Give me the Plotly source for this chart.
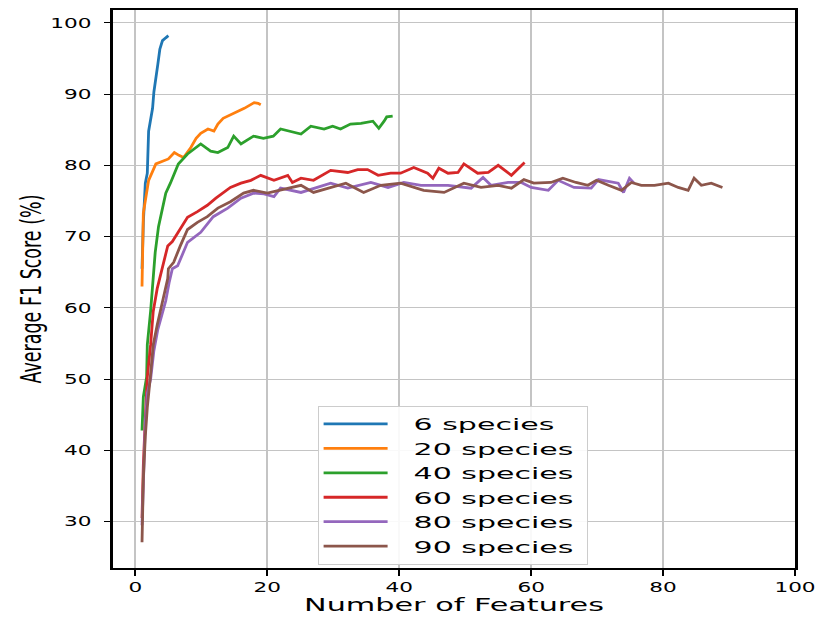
import plotly.graph_objects as go

# Average F1 score (%) versus number of selected features, per species count
labels = ["6 species", "20 species", "40 species", "60 species", "80 species", "90 species"]
colors = ["#1f77b4", "#ff7f0e", "#2ca02c", "#d62728", "#9467bd", "#8c564b"]

x_6 = [1.0, 1.2, 1.5, 1.8, 2.0, 2.3, 2.6, 2.8, 3.1, 3.4, 3.7, 4.1, 4.6, 5.0]
f1_6 = [65.5, 72.0, 77.5, 78.9, 84.8, 86.6, 88.0, 90.3, 92.0, 94.2, 96.3, 97.5, 97.9, 98.2]

x_20 = [1.0, 1.2, 2.0, 2.6, 3.1, 5.0, 5.9, 6.6, 7.3, 8.4, 9.2, 9.9, 11.0, 11.9, 12.5,
        13.3, 15.0, 16.5, 18.0, 18.6, 19.0]
f1_20 = [63.0, 73.3, 77.9, 79.3, 80.2, 80.9, 81.8, 81.4, 81.1, 82.5, 83.8, 84.5, 85.1, 84.8, 85.8,
         86.6, 87.3, 88.0, 88.8, 88.7, 88.5]

x_40 = [1.0, 1.2, 1.7, 1.8, 2.3, 2.6, 3.0, 3.5, 4.1, 4.6, 5.3, 6.5, 7.9, 9.9, 11.4, 12.5,
        14.0, 14.9, 16.0, 17.9, 19.4, 20.9, 22.0, 25.1, 26.6, 28.6, 29.9, 31.1, 32.6, 34.2,
        36.0, 36.9, 37.7, 38.1, 39.0]
f1_40 = [42.8, 47.5, 50.3, 54.8, 59.5, 63.1, 67.8, 71.4, 73.8, 76.1, 77.5, 80.2, 81.6, 83.0, 82.0, 81.8,
         82.5, 84.1, 83.0, 84.1, 83.8, 84.1, 85.1, 84.4, 85.5, 85.1, 85.5, 85.1, 85.8, 85.9,
         86.2, 85.2, 86.2, 86.8, 86.9]

x_60 = [1.0, 1.2, 1.5, 1.8, 2.3, 2.7, 3.3, 4.1, 4.9, 5.6, 6.5, 7.9, 9.4, 10.9, 12.2, 13.4,
        14.4, 16.0, 17.5, 19.0, 21.0, 23.1, 23.8, 25.1, 27.0, 29.6, 32.2, 33.7, 35.2, 36.8,
        38.7, 40.2, 42.2, 44.3, 45.1, 46.0, 47.4, 48.9, 49.8, 51.9, 53.5, 55.0, 57.0, 59.0]
f1_60 = [30.5, 38.0, 44.5, 50.3, 54.8, 59.5, 62.7, 65.5, 68.7, 69.3, 70.6, 72.7, 73.5, 74.4, 75.4, 76.2,
         76.9, 77.5, 77.9, 78.6, 77.9, 78.6, 77.6, 78.2, 77.9, 79.3, 79.0, 79.4, 79.4, 78.6,
         78.9, 78.9, 79.7, 78.9, 78.2, 79.6, 78.9, 79.0, 80.2, 78.9, 79.0, 80.0, 78.6, 80.4]

x_80 = [1.0, 1.2, 1.5, 1.8, 2.3, 2.8, 3.4, 4.0, 4.6, 5.1, 5.6, 6.4, 7.9, 9.9, 11.8, 14.0,
        16.0, 17.9, 19.5, 21.0, 22.0, 25.1, 29.6, 32.2, 35.7, 38.3, 40.7, 43.3, 47.4, 50.9,
        52.7, 53.9, 56.5, 58.5, 60.0, 62.6, 64.1, 66.5, 69.1, 70.2, 73.2, 74.0, 74.9, 75.6]
f1_80 = [29.5, 36.0, 44.0, 48.0, 50.0, 54.0, 57.0, 59.0, 61.0, 63.5, 65.5, 65.9, 69.2, 70.6, 72.8, 74.0,
         75.4, 76.1, 76.0, 75.6, 76.8, 76.2, 77.5, 76.8, 77.6, 76.9, 77.6, 77.2, 77.2, 76.8,
         78.3, 77.2, 77.6, 77.6, 76.9, 76.5, 77.9, 76.9, 76.8, 78.0, 77.5, 76.2, 78.2, 77.5]

x_90 = [1.0, 1.1, 1.2, 1.5, 1.8, 2.3, 2.7, 3.3, 3.8, 4.3, 4.9, 5.0, 5.8, 6.8, 7.9, 9.4,
        10.9, 12.5, 14.4, 16.4, 17.9, 20.0, 22.0, 25.1, 27.0, 29.6, 31.9, 34.6, 37.2, 40.2,
        43.7, 46.8, 49.8, 52.4, 55.0, 57.0, 58.9, 60.4, 63.0, 64.8, 66.8, 68.6, 69.9, 71.7,
        73.7, 75.2, 76.7, 78.7, 80.8, 82.3, 83.8, 84.7, 85.8, 87.3, 89.0]
f1_90 = [27.1, 31.0, 36.0, 42.0, 46.0, 50.7, 54.8, 57.6, 59.5, 61.7, 64.1, 65.5, 66.4, 68.7, 71.0, 72.0,
         72.8, 74.0, 74.9, 76.1, 76.5, 76.1, 76.5, 77.2, 76.2, 76.9, 77.5, 76.2, 77.2, 77.5,
         76.5, 76.2, 77.5, 76.9, 77.2, 76.8, 78.0, 77.5, 77.6, 78.2, 77.6, 77.2, 77.9, 77.2,
         76.5, 77.6, 77.2, 77.2, 77.5, 76.9, 76.5, 78.2, 77.2, 77.5, 76.9]

x_series = [x_6, x_20, x_40, x_60, x_80, x_90]
f1_series = [f1_6, f1_20, f1_40, f1_60, f1_80, f1_90]

x_ticks = [0, 20, 40, 60, 80, 100]
y_ticks = [30, 40, 50, 60, 70, 80, 90, 100]

FONT = "DejaVu Sans"

fig = go.Figure()
for name, color, xs, ys in zip(labels, colors, x_series, f1_series):
    fig.add_trace(go.Scatter(x=xs, y=ys, mode="lines", name=name,
                             line=dict(color=color, width=2.8)))

common = dict(showline=True, linecolor="black", mirror=True, showgrid=True,
              gridcolor="#c4c4c4", ticks="outside", ticklen=6, tickcolor="black",
              zeroline=False, tickfont=dict(family=FONT, size=13.5, color="black"))

fig.update_xaxes(range=[-3.4, 100], tickvals=x_ticks, linewidth=1.6, gridwidth=2.2,
                 tickwidth=2.2,
                 title=dict(text="Number of Features",
                            font=dict(family=FONT, size=17, color="black"),
                            standoff=4),
                 **common)
fig.update_yaxes(range=[23.5, 101.8], tickvals=y_ticks, linewidth=2.6, gridwidth=1.4,
                 tickwidth=1.4, ticklabelstandoff=10,
                 title=dict(text="Average F1 Score (%)",
                            font=dict(family=FONT, size=17.5, color="black"),
                            standoff=20),
                 **common)

fig.update_layout(
    width=816, height=619,
    margin=dict(l=113, r=21, t=8, b=46),
    paper_bgcolor="white", plot_bgcolor="white",
    showlegend=True,
    legend=dict(x=0.30, y=0.006, xanchor="left", yanchor="bottom",
                bgcolor="rgba(255,255,255,0.9)", bordercolor="#cccccc", borderwidth=1,
                font=dict(family=FONT, size=16.5, color="black"),
                tracegroupgap=0, itemwidth=64),
)

# Text in this figure is drawn horizontally widened (glyphs wider than tall);
# apply that stretch to the rendered SVG labels once the plot is drawn.
post = r"""
var gd = document.getElementById('{plot_id}');
function widen(el, s, dx, before) {
  var ax = parseFloat(el.getAttribute('x')) || 0;
  var t = el.getAttribute('transform') || '';
  var st = 'translate(' + (ax + dx) + ',0) scale(' + s + ',1) translate(' + (-ax) + ',0)';
  el.setAttribute('transform', before ? (st + ' ' + t) : (t + ' ' + st));
}
gd.querySelectorAll('.xtick text, .ytick text').forEach(function (el) { widen(el, 1.6, 0, false); });
gd.querySelectorAll('.g-xtitle text').forEach(function (el) { widen(el, 1.78, 0, false); });
gd.querySelectorAll('.g-ytitle text').forEach(function (el) { widen(el, 1.6, 0, true); });
var lg = gd.querySelector('.legend');
if (lg) {
  lg.querySelectorAll('.legendtext').forEach(function (el) { widen(el, 1.82, 21, false); });
  var bg = lg.querySelector('rect.bg');
  var left = bg.getBoundingClientRect().left;
  var right = 0;
  lg.querySelectorAll('.legendtext').forEach(function (el) {
    right = Math.max(right, el.getBoundingClientRect().right);
  });
  var w = right - left + 14;
  bg.setAttribute('width', w);
  var sb = lg.querySelector('.scrollbox');
  var cp = sb ? (sb.getAttribute('clip-path') || '') : '';
  var m = cp.match(/#([^)'"]+)/);
  if (m) {
    var c = document.getElementById(m[1]);
    if (c) { var r = c.querySelector('rect'); if (r) r.setAttribute('width', w); }
  }
}
"""

fig.write_html("out.html", post_script=post)
